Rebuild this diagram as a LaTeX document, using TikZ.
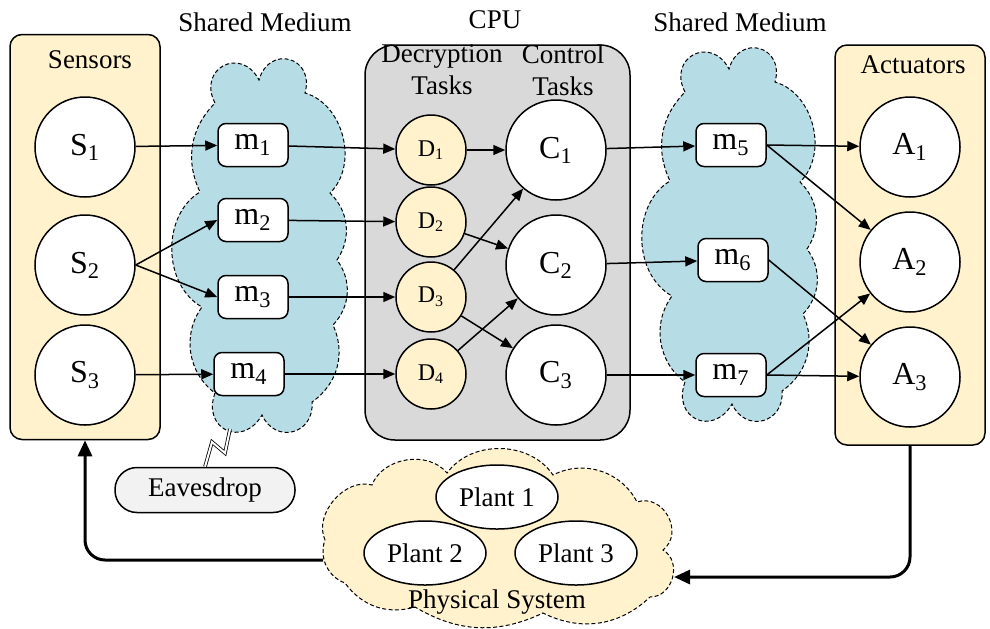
\documentclass[tikz,border=0pt]{standalone}
\usepackage{fontspec}
\setmainfont{Liberation Serif}
\usetikzlibrary{positioning,shapes.geometric,arrows.meta}
\definecolor{paleyellow}{RGB}{255,242,204}
\definecolor{mediumblue}{RGB}{182,220,230}
\definecolor{cpugray}{RGB}{217,217,217}
\definecolor{eavesgray}{RGB}{242,242,242}

\begin{document}
\begin{tikzpicture}[x=0.5pt, y=-0.5pt, font=\fontsize{13.5}{16}\selectfont,
    group/.style={draw, rounded corners=6pt, line width=0.75pt, fill=paleyellow},
    cloudline/.style={line width=0.5pt, dash pattern=on 2pt off 1.2pt},
    dev/.style={draw, circle, fill=white, minimum size=50pt, inner sep=0pt, line width=0.75pt, font=\fontsize{16}{18}\selectfont},
    dtask/.style={draw, circle, fill=paleyellow, minimum size=35pt, inner sep=0pt, line width=0.75pt, font=\fontsize{12}{14}\selectfont},
    msg/.style={draw, rounded corners=4pt, fill=white, minimum width=35pt, minimum height=21.5pt, inner sep=0pt, line width=0.75pt, font=\fontsize{16}{18}\selectfont},
    plant/.style={draw, ellipse, fill=white, minimum width=61pt, minimum height=32pt, inner sep=0pt, line width=0.75pt},
    link/.style={-{Triangle[length=6pt,width=5pt]}, line width=0.75pt},
    feedback/.style={-{Triangle[length=8pt,width=7pt]}, line width=1.5pt, rounded corners=10pt}]
            \useasboundingbox (0,0) rectangle (990,628);

            \foreach \dx/\dy in {0/0, 470/-11}
                \draw [cloudline, fill=mediumblue, shift={(\dx,\dy)}]
                    (215,103) to[bend left=90, looseness=2] (259,80) to[bend left=90, looseness=2] (305,93)
                    to[bend left=60] (330,193) to[bend left=40] (337,260) to[bend left=40] (333,325)
                    to[bend left=40] (312,402) to[bend left=80, looseness=1.6] (262,415)
                    to[bend left=85, looseness=1.9] (215,393) to[bend left=45] (202,307)
                    to[bend left=60] (200,192) to[bend left=35] cycle;
            \node (label1) at (265,22) {Shared Medium};
            \node (label2) at (740,22) {Shared Medium};

            \node [group, minimum width=75pt, minimum height=202.5pt] (sensors) at (85,237) {};
            \node (sensorslabel) at (90,60) {Sensors};
            \node [group, minimum width=75pt, minimum height=200pt] (actuators) at (910,245) {};
            \node (actuatorslabel) at (913,65) {Actuators};
            \node [draw, rounded corners=15pt, fill=cpugray, line width=0.75pt, minimum width=132.5pt, minimum height=197.5pt] (cpu) at (497.5,242.5) {};
            \node (cpulabel) at (495,20) {CPU};
            \node [align=center] (declabel) at (442,70) {Decryption\\Tasks};
            \node [align=center] (ctrllabel) at (563,70) {Control\\Tasks};

            \node [dev] (S1) at (85,147) {S\textsubscript{1}};
            \node [dev] (S2) at (85,265) {S\textsubscript{2}};
            \node [dev] (S3) at (85,375) {S\textsubscript{3}};

            \node [msg] (m1) at (253,145) {m\textsubscript{1}};
            \node [msg] (m2) at (253,220) {m\textsubscript{2}};
            \node [msg] (m3) at (253,297) {m\textsubscript{3}};
            \node [msg] (m4) at (249,374) {m\textsubscript{4}};

            \node [dtask] (D1) at (431,150) {D\textsubscript{1}};
            \node [dtask] (D2) at (431,222) {D\textsubscript{2}};
            \node [dtask] (D3) at (431,297) {D\textsubscript{3}};
            \node [dtask] (D4) at (431,374) {D\textsubscript{4}};

            \node [dev] (C1) at (556,150) {C\textsubscript{1}};
            \node [dev] (C2) at (556,265) {C\textsubscript{2}};
            \node [dev] (C3) at (556,375) {C\textsubscript{3}};

            \node [msg] (m5) at (731,145) {m\textsubscript{5}};
            \node [msg] (m6) at (733,260) {m\textsubscript{6}};
            \node [msg] (m7) at (731,375) {m\textsubscript{7}};

            \node [dev] (A1) at (910,147) {A\textsubscript{1}};
            \node [dev] (A2) at (910,262) {A\textsubscript{2}};
            \node [dev] (A3) at (910,377) {A\textsubscript{3}};

            \node [draw, rounded corners=11pt, fill=eavesgray, line width=0.75pt, minimum width=90pt, minimum height=22.5pt] (eaves) at (205,490) {Eavesdrop};
            \coordinate (tap) at (230,429);
            \draw [line width=0.4pt, double, double distance=1pt] (eaves.north) -- (212,442) -- (225,453) -- (tap);

            \draw [cloudline, fill=paleyellow]
                (325,540) to[bend left=65] (372,485) to[bend left=60] (447,473)
                to[bend left=55] (553,475) to[bend left=45] (637,502)
                to[bend left=80, looseness=1.3] (663,550) to[bend left=75, looseness=1.2] (650,597)
                to[bend left=35] (543,613) to[bend left=28] (415,607)
                to[bend left=35] (345,583) to[bend left=45] cycle;
            \node [plant] (plant1) at (497,497) {Plant 1};
            \node [plant] (plant2) at (425,553) {Plant 2};
            \node [plant] (plant3) at (576,553) {Plant 3};
            \node (physlabel) at (497,602) {Physical System};

            \draw [link] (S1) -- (m1);
            \draw [link] (S2.east) -- (m2.west);
            \draw [link] (S2.east) -- (m3.west);
            \draw [link] (S3) -- (m4);
            \draw [link] (m1) -- (D1);
            \draw [link] (m2) -- (D2);
            \draw [link] (m3) -- (D3);
            \draw [link] (m4) -- (D4);
            \draw [link] (D1) -- (C1);
            \draw [link] (D2) -- (C2);
            \draw [link] (D3) -- (C1);
            \draw [link] (D3) -- (C3);
            \draw [link] (D4) -- (C2);
            \draw [link] (C1) -- (m5);
            \draw [link] (C2) -- (m6);
            \draw [link] (C3) -- (m7);
            \draw [link] (m5.east) -- (A1);
            \draw [link] (m5.east) -- (A2);
            \draw [link] (m6.east) -- (A3);
            \draw [link] (m7.east) -- (A2);
            \draw [link] (m7.east) -- (A3);

            \coordinate (physin) at (674,577);
            \coordinate (physout) at (323,560);
            \draw [feedback] (actuators.south) |- (physin);
            \draw [feedback] (physout) -| (sensors.south);
        \end{tikzpicture}
\end{document}
